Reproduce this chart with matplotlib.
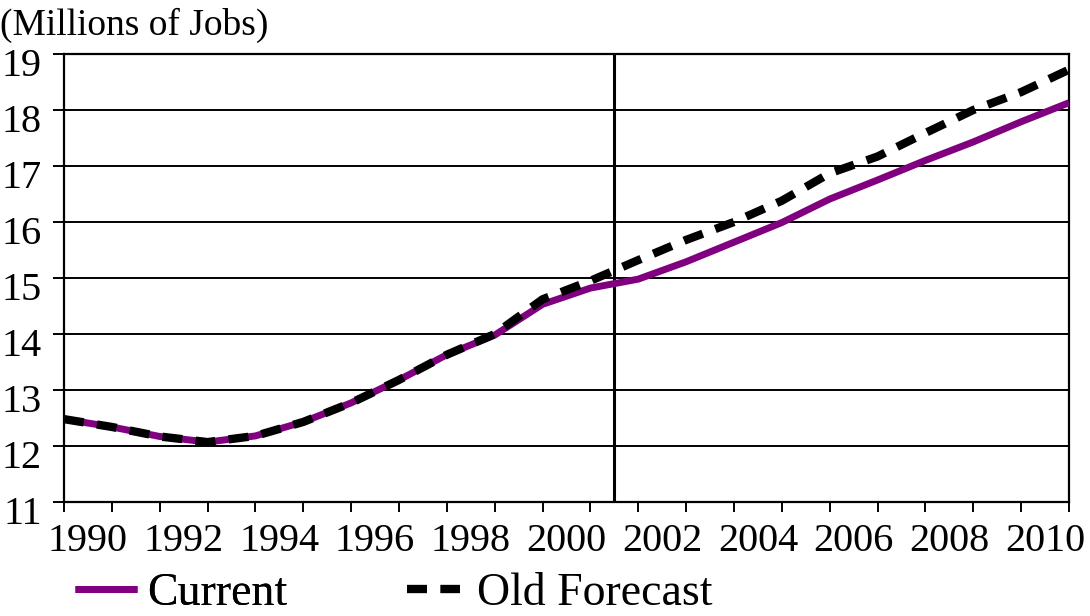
import matplotlib
matplotlib.use("Agg")
import matplotlib.pyplot as plt
import matplotlib.transforms as mtransforms
from matplotlib.ticker import FixedLocator, NullFormatter, FixedFormatter
from matplotlib.lines import Line2D

# ---- data ----
period_starts = list(range(1990, 2012))  # 22 vertices, drawn at period boundaries
current = [12.48, 12.34, 12.17, 12.07, 12.18, 12.43, 12.77, 13.18, 13.63, 13.98, 14.53,
           14.82, 14.98, 15.29, 15.64, 15.99, 16.41, 16.75, 17.10, 17.43, 17.79, 18.13]
old_forecast = [12.48, 12.34, 12.17, 12.07, 12.18, 12.43, 12.77, 13.18, 13.63, 14.00, 14.62,
                14.95, 15.32, 15.68, 16.00, 16.38, 16.87, 17.17, 17.59, 18.00, 18.32, 18.72]
tick_years = list(range(1990, 2011, 2))
tick_labels = [str(y) for y in tick_years]
y_ticks = list(range(11, 20))
divider_year = 2001.5
y_label = "(Millions of Jobs)"
series_names = ["Current", "Old Forecast"]

plt.rcParams['font.family'] = ['Liberation Serif', 'DejaVu Serif']
FS = 29
LFS = 33

fig = plt.figure(figsize=(10.9, 6.16), dpi=100)
ax = fig.add_axes([64/1090, 1 - 502/616, (1069 - 64)/1090, (502 - 54)/616])

ax.set_xlim(1990, 2011)
ax.set_ylim(11, 19)

for yv in y_ticks:
    ax.axhline(yv, color='black', lw=1.4, zorder=1)

ax.axvline(divider_year, color='black', lw=2.2, zorder=2)

purple = '#800080'
cur_style = dict(color=purple, lw=5, solid_capstyle='butt')
old_style = dict(color='black', lw=6, linestyle=(0, (2.4, 1.6)), dash_capstyle='butt')

ax.plot(period_starts, current, solid_joinstyle='miter', zorder=3, **cur_style)
ax.plot(period_starts, old_forecast, zorder=4, **old_style)

# x axis: ticks at every boundary, labels centred in period
ax.xaxis.set_major_locator(FixedLocator(period_starts))
ax.xaxis.set_major_formatter(NullFormatter())
ax.xaxis.set_minor_locator(FixedLocator([y + 0.5 for y in tick_years]))
ax.xaxis.set_minor_formatter(FixedFormatter(tick_labels))
ax.tick_params(axis='x', which='major', direction='out', length=7.5, width=1.4, color='black')
ax.tick_params(axis='x', which='minor', length=0, pad=15, labelsize=FS)

ax.set_yticks(y_ticks)
ax.set_yticklabels([str(v) for v in y_ticks])
ax.tick_params(axis='y', direction='out', length=8, width=1.4, pad=8, labelsize=FS)
offset = mtransforms.ScaledTranslation(0, -8/100, fig.dpi_scale_trans)
for lbl in ax.get_yticklabels():
    lbl.set_transform(lbl.get_transform() + offset)

for s in ax.spines.values():
    s.set_color('black')
    s.set_linewidth(1.6)

fig.text(0.0, 1 - 35/616, y_label, fontsize=FS - 2, ha='left', va='baseline')

ymid = 1 - 594/616
leg1 = fig.legend(handles=[Line2D([], [], **cur_style)], labels=[series_names[0]],
                  loc='center left', bbox_to_anchor=(75/1090, ymid), frameon=False,
                  fontsize=LFS, handlelength=1.35, handletextpad=0.22, borderpad=0,
                  borderaxespad=0)
leg2 = fig.legend(handles=[Line2D([], [], **old_style)], labels=[series_names[1]],
                  loc='center left', bbox_to_anchor=(407/1090, ymid), frameon=False,
                  fontsize=LFS, handlelength=1.16, handletextpad=0.37, borderpad=0,
                  borderaxespad=0)
fig.add_artist(leg1)

fig.savefig('out.png', dpi=100)
